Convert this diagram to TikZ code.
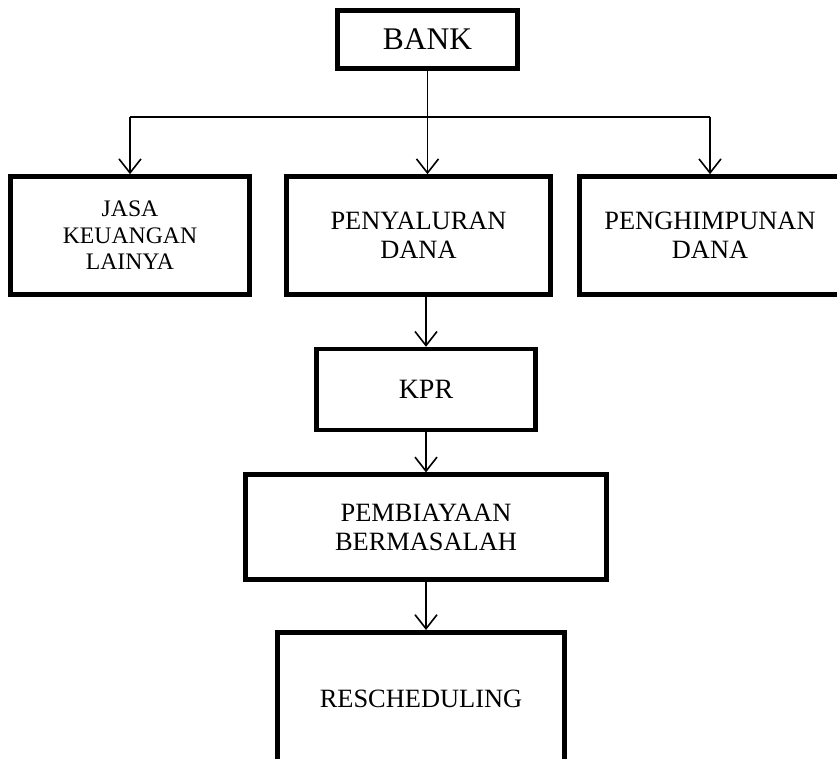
\documentclass[tikz,border=0pt]{standalone}
\usepackage{fontspec}
\setmainfont{Liberation Serif}
\usetikzlibrary{positioning,arrows.meta}

\tikzset{
  box/.style={draw, line width=4.6pt, inner sep=0pt, align=center},
  link/.style={line width=1.6pt, -{Straight Barb[length=14pt,width=22pt]}},
  branch/.style={line width=1.2pt},
}
\newcommand{\txtsize}[1]{\fontsize{#1}{1.12\dimexpr#1pt\relax}\selectfont}

\begin{document}
\begin{tikzpicture}[x=1pt,y=1pt]
        \useasboundingbox (0,0) rectangle (837,-759);
        \clip (0,0) rectangle (837,-759);
        \node[box, minimum width=180pt, minimum height=58pt, font=\txtsize{31.5}] (bank) at (427.5,-39.5) {BANK};
        \node[box, minimum width=239pt, minimum height=118pt, font=\txtsize{23.7}] (jasa) at (130,-235.5) {JASA\\KEUANGAN\\LAINYA};
        \node[box, minimum width=264pt, minimum height=118pt, font=\txtsize{26.4}] (penyaluran) at (418.5,-235.5) {PENYALURAN\\DANA};
        \node[box, minimum width=261pt, minimum height=118pt, font=\txtsize{26.4}] (penghimpunan) at (710,-235.5) {PENGHIMPUNAN\\DANA};
        \node[box, minimum width=219pt, minimum height=81pt, font=\txtsize{28}] (kpr) [below=50pt of penyaluran, xshift=7.5pt] {KPR};
        \node[box, minimum width=361pt, minimum height=105pt, font=\txtsize{26.4}] (pembiayaan) [below=40pt of kpr] {PEMBIAYAAN\\BERMASALAH};
        \node[box, minimum width=287pt, minimum height=134pt, font=\txtsize{26.4}] (rescheduling) [below=48pt of pembiayaan, xshift=-5pt] {RESCHEDULING};
        \coordinate (fork) at (427.5,-117);
        % branches from the bank
        \draw[branch] (bank.south) -- (fork);
        \draw[branch] (jasa.north |- fork) -- (penghimpunan.north |- fork);
        \draw[link] (jasa.north |- fork) -- (jasa.north);
        \draw[link] (fork) -- (fork |- penyaluran.north);
        \draw[link] (penghimpunan.north |- fork) -- (penghimpunan.north);
        % main chain
        \draw[link] (kpr.north |- penyaluran.south) -- (kpr.north);
        \draw[link] (kpr.south) -- (pembiayaan.north);
        \draw[link] (pembiayaan.south) -- (pembiayaan.south |- rescheduling.north);
\end{tikzpicture}
\end{document}
